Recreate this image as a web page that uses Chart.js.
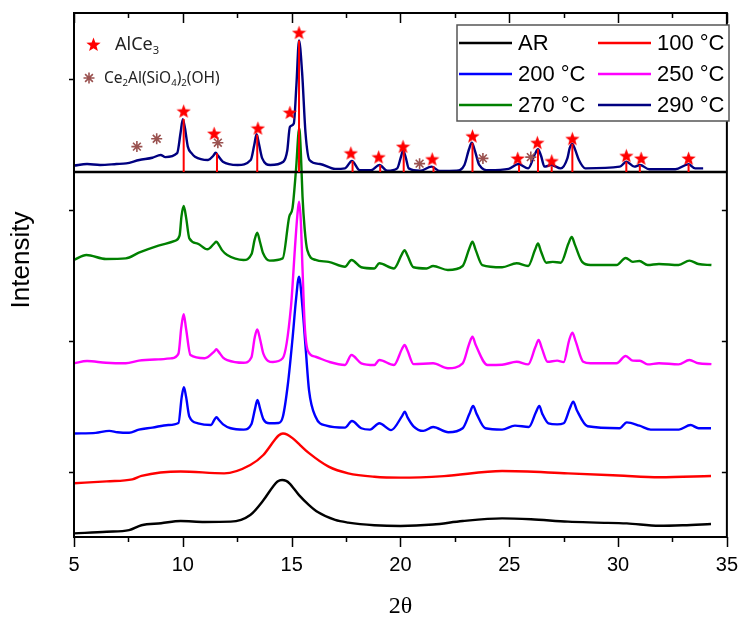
<!DOCTYPE html>
<html><head><meta charset="utf-8">
<script src="https://cdn.jsdelivr.net/npm/chart.js@4/dist/chart.umd.min.js"></script>
<style>html,body{margin:0;padding:0;background:#fff}#wrap{width:754px;height:617px}</style>
</head><body><div id="wrap"><canvas id="c" width="754" height="617"></canvas></div>
<script>
// ---- data (2θ in degrees, intensity in stacked arbitrary units) ----
const arX = [5, 6.5, 7.53, 8.1, 9.0, 9.9, 11.0, 12.2, 13.1, 13.7, 14.14, 14.35, 14.56, 14.75, 14.9, 15.34, 15.8, 16.2, 17.0, 17.6, 18.8, 20.0, 21.5, 22.86, 24.67, 26.0, 27.7, 29.0, 30.4, 31.9, 33.0, 34.27];
const arY = [0.028, 0.04, 0.053, 0.09, 0.105, 0.122, 0.115, 0.117, 0.168, 0.28, 0.384, 0.423, 0.435, 0.428, 0.41, 0.32, 0.244, 0.19, 0.13, 0.11, 0.09, 0.084, 0.095, 0.122, 0.142, 0.135, 0.117, 0.11, 0.104, 0.086, 0.09, 0.099];

const t100X = [5, 6.5, 7.68, 8.1, 9.9, 11.9, 13.1, 13.7, 14.22, 14.4, 14.6, 14.8, 15.04, 15.4, 15.8, 16.7, 17.6, 18.8, 20.0, 22.0, 24.67, 27.7, 30.0, 31.9, 34.27];
const t100Y = [0.41, 0.425, 0.44, 0.466, 0.50, 0.486, 0.55, 0.626, 0.74, 0.775, 0.79, 0.782, 0.755, 0.70, 0.64, 0.537, 0.486, 0.46, 0.453, 0.465, 0.504, 0.486, 0.47, 0.456, 0.466];

const t200X = [5, 6.0, 6.62, 7.0, 7.53, 7.98, 8.6, 9.33, 9.8, 9.95, 10.05, 10.15, 10.3, 10.7, 11.3, 11.45, 11.55, 11.65, 11.85, 12.2, 12.8, 13.15, 13.32, 13.43, 13.55, 13.7, 13.98, 14.4, 14.6, 14.83, 15.05, 15.2, 15.34, 15.5, 15.65, 15.8, 16.1, 16.6, 17.45, 17.77, 18.2, 18.6, 19.03, 19.57, 20.08, 20.2, 20.32, 20.6, 21.05, 21.5, 22.2, 22.86, 23.17, 23.34, 23.5, 23.9, 24.67, 25.26, 25.9, 26.22, 26.38, 26.52, 26.8, 27.2, 27.5, 27.78, 27.94, 28.1, 28.6, 30.07, 30.4, 30.98, 31.5, 32.8, 33.33, 33.7, 34.27];
const t200Y = [0.79, 0.795, 0.81, 0.80, 0.796, 0.82, 0.835, 0.855, 0.87, 1.07, 1.143, 1.07, 0.92, 0.868, 0.855, 0.895, 0.914, 0.895, 0.86, 0.83, 0.82, 0.86, 0.98, 1.046, 0.98, 0.90, 0.868, 0.87, 0.92, 1.17, 1.53, 1.81, 1.987, 1.75, 1.43, 1.12, 0.918, 0.85, 0.835, 0.885, 0.83, 0.82, 0.868, 0.816, 0.925, 0.957, 0.915, 0.845, 0.81, 0.84, 0.80, 0.83, 0.94, 1.0, 0.94, 0.83, 0.82, 0.85, 0.84, 0.95, 1.0, 0.94, 0.868, 0.86, 0.868, 0.98, 1.033, 0.97, 0.845, 0.83, 0.875, 0.85, 0.82, 0.82, 0.855, 0.83, 0.83];

const t250X = [5, 5.6, 6.47, 7.38, 7.98, 8.88, 9.48, 9.8, 9.93, 10.04, 10.15, 10.35, 11.0, 11.44, 11.54, 11.64, 11.85, 12.04, 12.79, 13.15, 13.3, 13.42, 13.55, 13.7, 14.14, 14.59, 14.97, 15.15, 15.26, 15.34, 15.42, 15.5, 15.6, 15.75, 16.1, 16.7, 17.45, 17.75, 18.2, 18.8, 19.03, 19.7, 20.07, 20.19, 20.32, 20.6, 21.5, 22.18, 22.86, 23.16, 23.31, 23.46, 24.0, 24.67, 25.34, 25.87, 26.2, 26.35, 26.5, 26.76, 27.2, 27.5, 27.75, 27.9, 28.05, 28.4, 28.73, 29.93, 30.35, 30.68, 31.0, 31.36, 31.88, 32.78, 33.28, 33.69, 34.29];
const t250Y = [1.326, 1.343, 1.33, 1.326, 1.346, 1.356, 1.364, 1.40, 1.60, 1.70, 1.59, 1.389, 1.364, 1.415, 1.433, 1.415, 1.37, 1.351, 1.33, 1.37, 1.52, 1.585, 1.51, 1.40, 1.336, 1.364, 1.758, 2.2, 2.45, 2.56, 2.42, 2.05, 1.62, 1.42, 1.376, 1.338, 1.313, 1.389, 1.326, 1.313, 1.351, 1.313, 1.435, 1.466, 1.425, 1.32, 1.326, 1.288, 1.326, 1.475, 1.529, 1.465, 1.313, 1.315, 1.338, 1.318, 1.45, 1.504, 1.44, 1.338, 1.346, 1.335, 1.50, 1.56, 1.495, 1.338, 1.326, 1.326, 1.382, 1.346, 1.345, 1.318, 1.326, 1.318, 1.351, 1.326, 1.32];

const t270X = [5, 5.57, 6.47, 7.38, 7.98, 8.88, 9.63, 9.85, 9.94, 10.04, 10.15, 10.3, 10.68, 11.13, 11.44, 11.54, 11.64, 11.8, 12.04, 12.79, 13.16, 13.3, 13.42, 13.55, 13.69, 13.99, 14.59, 14.89, 15.04, 15.2, 15.35, 15.42, 15.5, 15.6, 15.72, 16.1, 16.7, 17.45, 17.75, 18.2, 18.8, 19.03, 19.7, 20.07, 20.19, 20.32, 20.6, 21.2, 21.5, 22.18, 22.86, 23.16, 23.31, 23.46, 23.76, 24.67, 25.34, 25.87, 26.18, 26.32, 26.46, 26.7, 27.0, 27.37, 27.72, 27.87, 28.02, 28.35, 28.73, 29.93, 30.35, 30.68, 30.98, 31.36, 31.88, 32.78, 33.28, 33.69, 34.29];
const t270Y = [2.115, 2.153, 2.122, 2.127, 2.17, 2.224, 2.26, 2.30, 2.45, 2.527, 2.44, 2.28, 2.24, 2.196, 2.24, 2.254, 2.235, 2.19, 2.153, 2.115, 2.16, 2.27, 2.323, 2.25, 2.166, 2.11, 2.127, 2.445, 2.51, 2.8, 3.12, 2.95, 2.6, 2.35, 2.19, 2.115, 2.10, 2.063, 2.115, 2.059, 2.05, 2.09, 2.05, 2.16, 2.19, 2.15, 2.059, 2.05, 2.069, 2.038, 2.069, 2.2, 2.254, 2.19, 2.076, 2.059, 2.09, 2.069, 2.19, 2.24, 2.18, 2.094, 2.10, 2.094, 2.24, 2.29, 2.23, 2.10, 2.076, 2.076, 2.13, 2.10, 2.107, 2.076, 2.084, 2.076, 2.11, 2.084, 2.076];

const t290X = [5, 5.6, 6.2, 6.95, 7.4, 8.0, 8.6, 8.98, 9.2, 9.74, 9.9, 10.0, 10.1, 10.23, 10.4, 10.56, 11.16, 11.4, 11.51, 11.62, 11.84, 12.52, 13.12, 13.28, 13.39, 13.5, 13.65, 14.02, 14.62, 14.8, 14.92, 15.1, 15.22, 15.34, 15.48, 15.64, 15.82, 16.3, 17.0, 17.45, 17.77, 18.13, 18.65, 19.03, 19.4, 19.85, 20.02, 20.12, 20.24, 20.38, 20.9, 21.43, 21.81, 22.56, 22.94, 23.15, 23.28, 23.42, 23.62, 24.07, 24.97, 25.42, 25.87, 26.17, 26.32, 26.46, 26.62, 26.92, 27.37, 27.67, 27.78, 27.9, 28.02, 28.2, 28.5, 30.08, 30.38, 30.75, 31.01, 31.43, 32.63, 33.24, 33.54, 33.91];
const t290Y = [2.835, 2.847, 2.84, 2.847, 2.852, 2.878, 2.895, 2.916, 2.90, 2.93, 3.09, 3.19, 3.12, 2.98, 2.93, 2.903, 2.878, 2.91, 2.934, 2.91, 2.865, 2.84, 2.878, 2.99, 3.074, 3.0, 2.89, 2.84, 2.865, 2.95, 3.13, 3.157, 3.45, 3.79, 3.55, 3.08, 2.878, 2.847, 2.81, 2.814, 2.87, 2.80, 2.80, 2.84, 2.796, 2.814, 2.9, 2.95, 2.9, 2.814, 2.796, 2.827, 2.794, 2.796, 2.84, 2.96, 3.01, 2.95, 2.84, 2.80, 2.81, 2.847, 2.814, 2.92, 2.96, 2.91, 2.827, 2.84, 2.814, 2.89, 2.97, 3.0, 2.96, 2.878, 2.814, 2.827, 2.865, 2.827, 2.84, 2.807, 2.807, 2.845, 2.814, 2.814];

// reference pattern (AlCe3 sticks), stars and asterisks
const stickBase = 2.786;
const sticksX = [10.04, 11.57, 13.42, 15.34, 17.8, 19.07, 20.15, 21.52, 23.31, 25.45, 26.32, 26.95, 27.9, 30.38, 31.0, 33.24];
const sticksTop = [3.19, 2.93, 3.07, 3.79, 2.87, 2.84, 2.95, 2.83, 3.01, 2.84, 2.96, 2.83, 3.0, 2.865, 2.84, 2.845];
const starsX = [10.04, 11.44, 13.45, 14.92, 15.34, 17.72, 19.0, 20.12, 21.46, 23.31, 25.39, 26.29, 26.95, 27.9, 30.38, 31.06, 33.24];
const starsY = [3.25, 3.08, 3.12, 3.24, 3.85, 2.93, 2.90, 2.98, 2.885, 3.06, 2.89, 3.01, 2.87, 3.04, 2.91, 2.89, 2.89];
const astX = [7.89, 8.80, 11.61, 20.88, 23.79, 25.99];
const astY = [2.98, 3.04, 3.01, 2.85, 2.89, 2.90];

const xTickLabels = ['5', '10', '15', '20', '25', '30', '35'];
const yTickPositions = [0.5, 1.5, 2.5, 3.5];
const seriesLabels = ['AR', '100 °C', '200 °C', '250 °C', '270 °C', '290 °C'];
const seriesColors = ['#000000', '#ff0000', '#0000ff', '#ff00ff', '#008000', '#000080'];
const yTitle = 'Intensity';

// ---- helpers ----
const zip = (xs, ys) => xs.map((x, i) => ({x: x, y: ys[i]}));
const STAR_RED = '#ff0000';
const BROWN = '#9a5250';

function makeStar(size) {
  const c = document.createElement('canvas');
  c.width = size; c.height = size;
  const g = c.getContext('2d');
  const cx = size / 2, cy = size / 2 + 0.5, R = size / 2, r = R * 0.42;
  g.beginPath();
  for (let i = 0; i < 10; i++) {
    const a = -Math.PI / 2 + i * Math.PI / 5;
    const rr = i % 2 === 0 ? R : r;
    g.lineTo(cx + rr * Math.cos(a), cy + rr * Math.sin(a));
  }
  g.closePath();
  g.fillStyle = STAR_RED; g.fill();
  return c;
}
const starImg = makeStar(15);

const stickData = [];
sticksX.forEach((x, i) => {
  stickData.push({x: x, y: stickBase});
  stickData.push({x: x, y: sticksTop[i]});
  stickData.push({x: x, y: null});
});

const curveXs = [arX, t100X, t200X, t250X, t270X, t290X];
const curveYs = [arY, t100Y, t200Y, t250Y, t270Y, t290Y];
const drawOrder = [15, 14, 13, 12, 11, 10];

const datasets = [];
datasets.push({label: 'stars', data: zip(starsX, starsY), showLine: false, pointStyle: starImg, pointRadius: 7, order: 0});
datasets.push({label: 'asterisks', data: zip(astX, astY), showLine: false, pointStyle: 'star', pointRadius: 5.5, borderColor: BROWN, backgroundColor: BROWN, pointBorderWidth: 1.6, order: 1});
datasets.push({label: 'sticks', data: stickData, borderColor: '#ff0000', borderWidth: 2, pointRadius: 0, tension: 0, spanGaps: false, order: 2});
datasets.push({label: 'pattern base', data: [{x: 5, y: stickBase}, {x: 35, y: stickBase}], borderColor: '#000000', borderWidth: 2.5, pointRadius: 0, tension: 0, order: 3});
curveXs.forEach((xs, i) => {
  datasets.push({label: seriesLabels[i], data: zip(xs, curveYs[i]), borderColor: seriesColors[i], borderWidth: 2.4,
    pointRadius: 0, cubicInterpolationMode: 'monotone', order: drawOrder[i], isCurve: true});
});

// ---- plugins ----
const framePlugin = {
  id: 'frame',
  afterDatasetsDraw(chart) {
    const ctx = chart.ctx, a = chart.chartArea, xs = chart.scales.x, ys = chart.scales.y;
    ctx.save();
    ctx.strokeStyle = '#000'; ctx.lineWidth = 2;
    ctx.strokeRect(a.left, a.top, a.right - a.left, a.bottom - a.top);
    ctx.lineWidth = 1.5;
    ctx.beginPath();
    for (let v = 5; v <= 35.001; v += 2.5) {
      const px = Math.round(xs.getPixelForValue(v)) + 0.5;
      const major = Math.abs(v % 5) < 1e-6;
      const len = major ? 10 : 5;
      ctx.moveTo(px, a.bottom); ctx.lineTo(px, a.bottom + len);
      ctx.moveTo(px, a.top); ctx.lineTo(px, a.top + len);
    }
    yTickPositions.forEach(v => {
      const py = Math.round(ys.getPixelForValue(v)) + 0.5;
      ctx.moveTo(a.left - 5, py); ctx.lineTo(a.left, py);
      ctx.moveTo(a.right - 5, py); ctx.lineTo(a.right, py);
    });
    ctx.stroke();

    // y axis title (placed slightly above centre, as in the original)
    ctx.save();
    ctx.translate(22, (a.top + a.bottom) / 2 - 15);
    ctx.rotate(-Math.PI / 2);
    ctx.font = '26px "Liberation Sans", Arial, sans-serif';
    ctx.fillStyle = '#000'; ctx.textAlign = 'center'; ctx.textBaseline = 'middle';
    ctx.fillText(yTitle, 0, 0);
    ctx.restore();

    // series legend box (top right)
    const bx = a.left + 383, by = a.top + 12, bw = 272, bh = 96;
    ctx.fillStyle = '#fff';
    ctx.fillRect(bx, by, bw, bh);
    ctx.strokeStyle = '#555'; ctx.lineWidth = 1.5;
    ctx.strokeRect(bx, by, bw, bh);
    ctx.font = '22px "Liberation Sans", Arial, sans-serif';
    ctx.textBaseline = 'middle'; ctx.textAlign = 'left';
    const curves = chart.data.datasets.filter(d => d.isCurve);
    curves.forEach((d, i) => {
      const col = i % 2, row = Math.floor(i / 2);
      const lx = bx + 2 + col * 139, ly = by + 18 + row * 31;
      ctx.strokeStyle = d.borderColor; ctx.lineWidth = 2.5;
      ctx.beginPath(); ctx.moveTo(lx, ly); ctx.lineTo(lx + 53, ly); ctx.stroke();
      ctx.fillStyle = '#000';
      ctx.fillText(d.label, lx + 59, ly + 1);
    });

    // phase legend (top left)
    ctx.drawImage(starImg, a.left + 12, a.top + 24);
    const drawRich = (parts, x, y, size) => {
      parts.forEach(p => {
        const sub = p[1];
        ctx.font = (sub ? size * 0.62 : size) + 'px "Noto Sans", "Open Sans", sans-serif';
        ctx.fillText(p[0], x, sub ? y + size * 0.22 : y);
        x += ctx.measureText(p[0]).width;
      });
    };
    ctx.textBaseline = 'alphabetic';
    ctx.fillStyle = '#222';
    drawRich([['AlCe', 0], ['3', 1]], a.left + 41, a.top + 37, 18);
    // asterisk marker
    ctx.strokeStyle = BROWN; ctx.lineWidth = 1.6;
    const ax = a.left + 15, ay = a.top + 65, ar = 5.5;
    ctx.beginPath();
    for (let k = 0; k < 4; k++) {
      const ang = k * Math.PI / 4;
      ctx.moveTo(ax - ar * Math.cos(ang), ay - ar * Math.sin(ang));
      ctx.lineTo(ax + ar * Math.cos(ang), ay + ar * Math.sin(ang));
    }
    ctx.stroke();
    drawRich([['Ce', 0], ['2', 1], ['Al(SiO', 0], ['4', 1], [')', 0], ['2', 1], ['(OH)', 0]], a.left + 30, a.top + 70, 15.5);
    ctx.restore();
  }
};

Chart.defaults.font.family = '"Liberation Sans", Arial, sans-serif';
Chart.defaults.color = '#000';

new Chart(document.getElementById('c'), {
  type: 'line',
  data: {datasets: datasets},
  options: {
    responsive: false, animation: false, devicePixelRatio: 1,
    layout: {padding: {top: 13, right: 15, left: 0, bottom: 0}},
    plugins: {legend: {display: false}, tooltip: {enabled: false}},
    scales: {
      x: {
        type: 'linear', min: 5, max: 35,
        afterFit: s => { s.height = 80; },
        afterBuildTicks: s => { s.ticks = xTickLabels.map(t => ({value: Number(t)})); },
        ticks: {font: {size: 20}, padding: 16, maxRotation: 0, callback: v => String(v)},
        grid: {display: false, drawTicks: false},
        border: {display: false},
        title: {display: true, text: '2θ', font: {family: '"Liberation Serif", "Times New Roman", serif', size: 24, lineHeight: 1.0}, padding: {top: 0, bottom: -2}}
      },
      y: {
        type: 'linear', min: 0, max: 4,
        afterFit: s => { s.width = 74; },
        afterBuildTicks: s => { s.ticks = yTickPositions.map(v => ({value: v})); },
        ticks: {display: false},
        grid: {display: false, drawTicks: false},
        border: {display: false},
        title: {display: false, text: yTitle}
      }
    }
  },
  plugins: [framePlugin]
});
</script>
</body></html>
